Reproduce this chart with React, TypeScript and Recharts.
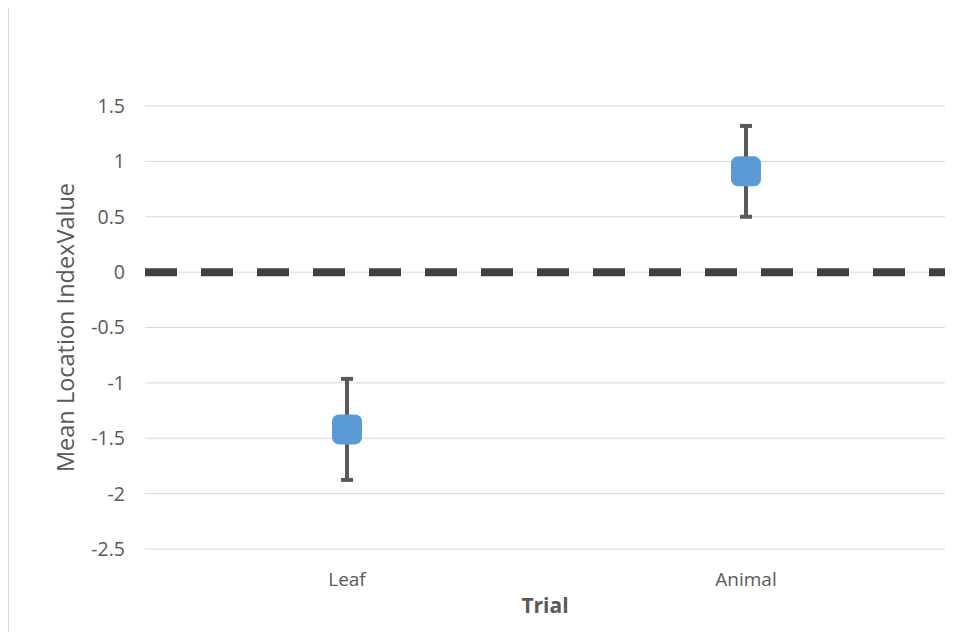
import { CartesianGrid, ComposedChart, ErrorBar, Line, ReferenceLine, XAxis, YAxis } from "recharts";

// Trial categories and mean location index values
const categories = ["Leaf", "Animal"];
const means = [-1.42, 0.91];
const errors = [0.456, 0.41];
const yTicks = [-2.5, -2, -1.5, -1, -0.5, 0, 0.5, 1, 1.5];

const data = categories.map((name, i) => ({ name, mean: means[i], err: errors[i] }));

const FONT = "'Open Sans', sans-serif";

const Marker = (props: any) => {
  const { cx, cy } = props;
  if (cx == null || cy == null) return null;
  return <rect x={cx - 15} y={cy - 15} width={30} height={30} rx={7} ry={7} fill="#5B9BD5" />;
};

const YTitle = (props: any) => {
  const { viewBox } = props;
  const cx = viewBox.x + 56;
  const cy = viewBox.y + viewBox.height / 2;
  return (
    <text
      x={cx}
      y={cy}
      transform={`rotate(-90 ${cx} ${cy})`}
      textAnchor="middle"
      dominantBaseline="central"
      fill="#595959"
      fontSize={23.5}
      fontFamily={FONT}
    >
      Mean Location IndexValue
    </text>
  );
};

const XTitle = (props: any) => {
  const { viewBox } = props;
  const cx = viewBox.x + viewBox.width / 2;
  const cy = viewBox.y + 56;
  return (
    <text x={cx} y={cy} textAnchor="middle" dominantBaseline="central" fill="#595959" fontSize={21} fontWeight="bold" fontFamily={FONT}>
      Trial
    </text>
  );
};

export default function App() {
  return (
    <div style={{ width: 949, height: 624, border: "1px solid #d9d9d9", marginTop: -1, background: "#fff" }}>
      <ComposedChart width={949} height={624} data={data} margin={{ top: 98, right: 13, left: 0, bottom: 0 }}>
        <CartesianGrid vertical={false} stroke="#d9d9d9" strokeWidth={1} />
        <XAxis
          dataKey="name"
          type="category"
          axisLine={false}
          tickLine={false}
          tickSize={0}
          tickMargin={24}
          height={83}
          padding={{ left: 202, right: 199 }}
          tick={{ fill: "#595959", fontSize: 19, fontFamily: FONT }}
          label={{ content: XTitle }}
        />
        <YAxis
          type="number"
          domain={[-2.5, 1.5]}
          ticks={yTicks}
          axisLine={false}
          tickLine={false}
          tickSize={0}
          tickMargin={20}
          width={136}
          interval={0}
          tick={{ fill: "#595959", fontSize: 19.5, fontFamily: FONT }}
          label={{ content: YTitle }}
        />
        <ReferenceLine y={0} stroke="#404040" strokeWidth={8} strokeDasharray="32 24" />
        <Line
          dataKey="mean"
          stroke="none"
          dot={<Marker />}
          activeDot={false}
          isAnimationActive={false}
        >
          <ErrorBar dataKey="err" width={6} stroke="#595959" strokeWidth={4} direction="y" />
        </Line>
      </ComposedChart>
    </div>
  );
}
